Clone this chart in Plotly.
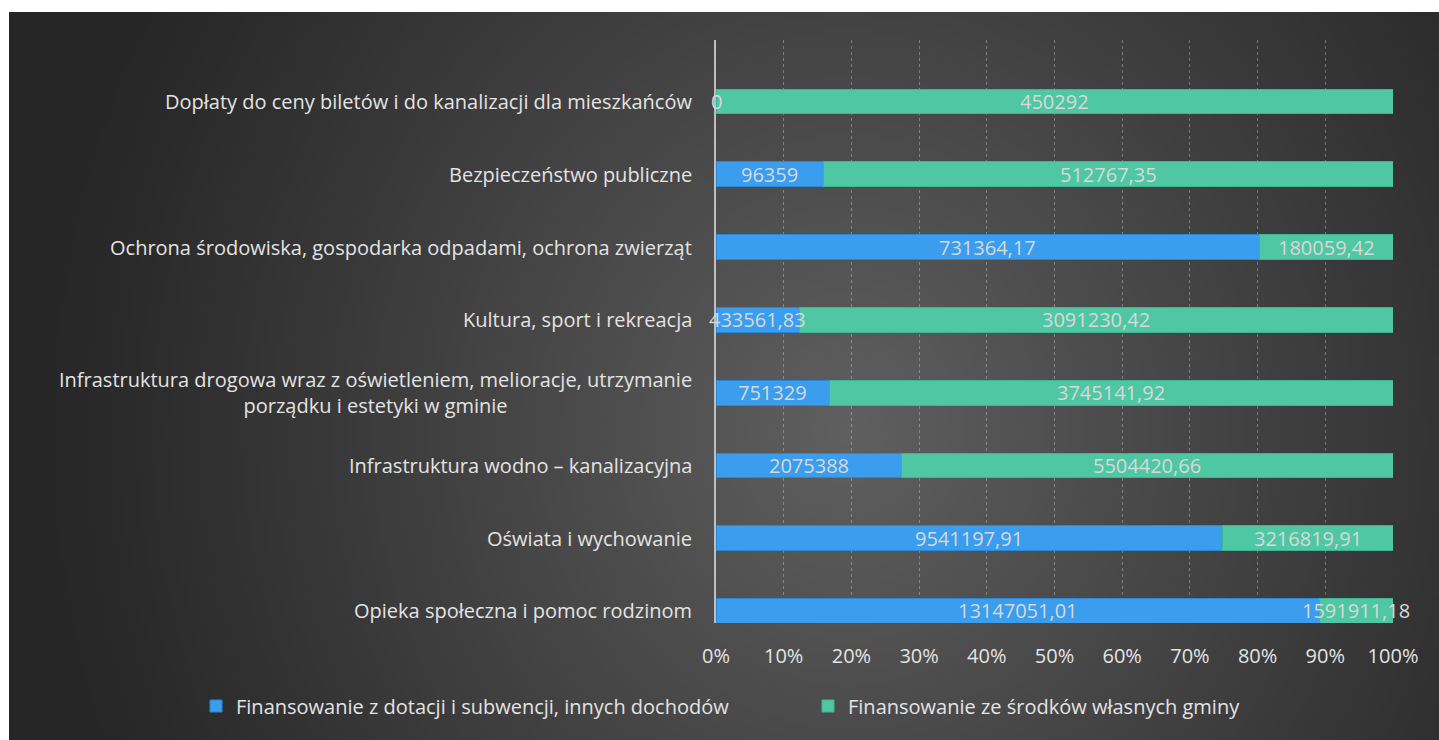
import base64
import struct
import zlib

import numpy as np
import plotly.graph_objects as go

# ---------------- data ----------------
categories = [
    "Opieka społeczna i pomoc rodzinom",
    "Oświata i wychowanie",
    "Infrastruktura wodno – kanalizacyjna",
    "Infrastruktura drogowa wraz z oświetleniem, melioracje, utrzymanie<br>porządku i estetyki w gminie",
    "Kultura, sport i rekreacja",
    "Ochrona środowiska, gospodarka odpadami, ochrona zwierząt",
    "Bezpieczeństwo publiczne",
    "Dopłaty do ceny biletów i do kanalizacji dla mieszkańców",
]
dotacje = [13147051.01, 9541197.91, 2075388, 751329, 433561.83, 731364.17, 96359, 0]
wlasne = [1591911.18, 3216819.91, 5504420.66, 3745141.92, 3091230.42, 180059.42, 512767.35, 450292]
series_names = [
    "Finansowanie z dotacji i subwencji, innych dochodów",
    "Finansowanie ze środków własnych gminy",
]
tick_values = [0, 10, 20, 30, 40, 50, 60, 70, 80, 90, 100]
tick_labels = ["0%", "10%", "20%", "30%", "40%", "50%", "60%", "70%", "80%", "90%", "100%"]


def fmt(v):
    if float(v).is_integer():
        return str(int(v))
    return f"{v:.2f}".replace(".", ",")


# ---------------- background gradient image ----------------
def make_png(arr):
    h, w, _ = arr.shape
    raw = b"".join(b"\x00" + arr[i].tobytes() for i in range(h))

    def chunk(tag, data):
        c = struct.pack(">I", len(data)) + tag + data
        return c + struct.pack(">I", zlib.crc32(tag + data) & 0xFFFFFFFF)

    png = b"\x89PNG\r\n\x1a\n"
    png += chunk(b"IHDR", struct.pack(">IIBBBBB", w, h, 8, 2, 0, 0, 0))
    png += chunk(b"IDAT", zlib.compress(raw, 9))
    png += chunk(b"IEND", b"")
    return "data:image/png;base64," + base64.b64encode(png).decode()


W, H = 1430, 728
gw, gh = 286, 146
xs = np.linspace(0, W, gw)[None, :]
ys = np.linspace(0, H, gh)[:, None]
d = np.sqrt(((xs - 840) / 820) ** 2 + ((ys - 420) / 900) ** 2)
f = np.clip(1 - d, 0, 1) ** 1.1
val = (38 + 58 * f).astype(np.uint8)
img = np.stack([val, val, val], axis=-1)
bg_src = make_png(img)

# ---------------- figure ----------------
FIG_W, FIG_H = 1439, 740
L, R, T, B = 716, 46, 40, 117
pw = FIG_W - L - R
ph = FIG_H - T - B
FONT = "Open Sans, Noto Sans, sans-serif"
TXT = "#e3e3e3"
FS = 20

fig = go.Figure()

colors = ["#3a9ded", "#4fc7a3"]
line_colors = ["#2a86d6", "#3cb592"]
for name, vals, c, lc in zip(series_names, [dotacje, wlasne], colors, line_colors):
    fig.add_trace(
        go.Bar(
            y=categories,
            x=vals,
            name=name,
            orientation="h",
            width=0.34,
            marker=dict(color=c, line=dict(color=lc, width=1)),
            hovertemplate="%{y}: %{x}<extra></extra>",
        )
    )

annotations = []
# category labels (centered multi-line, right-anchored like the original)
for cat in categories:
    annotations.append(
        dict(
            x=(694 - L) / pw,
            xref="paper",
            y=cat,
            yref="y",
            text=cat,
            showarrow=False,
            xanchor="right",
            yanchor="middle",
            align="center",
            font=dict(size=FS, color=TXT, family=FONT),
        )
    )

# value labels centered in each segment (percent positions from the data)
for cat, a, b in zip(categories, dotacje, wlasne):
    tot = a + b
    pa = 100 * a / tot
    pb = 100 * b / tot
    for v, center in ((a, pa / 2), (b, pa + pb / 2)):
        annotations.append(
            dict(
                x=center,
                xref="x",
                y=cat,
                yref="y",
                text=fmt(v),
                showarrow=False,
                xanchor="center",
                yanchor="middle",
                font=dict(size=FS, color="#d8d8d8", family=FONT),
            )
        )

fig.update_layout(
    width=FIG_W,
    height=FIG_H,
    barmode="stack",
    barnorm="percent",
    paper_bgcolor="white",
    plot_bgcolor="rgba(0,0,0,0)",
    margin=dict(l=L, r=R, t=T, b=B, pad=0),
    font=dict(family=FONT, color=TXT, size=FS),
    showlegend=True,
    legend=dict(
        orientation="h",
        xref="paper",
        yref="paper",
        x=(196 - L) / pw,
        xanchor="left",
        y=-(706 - (T + ph)) / ph,
        yanchor="middle",
        font=dict(size=FS, color=TXT, family=FONT),
        bgcolor="rgba(0,0,0,0)",
        traceorder="normal",
        itemwidth=30,
        entrywidth=567,
        entrywidthmode="pixels",
    ),
    xaxis=dict(
        range=[0, 100],
        tickmode="array",
        tickvals=tick_values,
        ticktext=tick_labels,
        showgrid=True,
        gridcolor="rgba(255,255,255,0.3)",
        griddash="dot",
        gridwidth=1,
        zeroline=False,
        showline=False,
        ticks="outside",
        ticklen=15,
        tickcolor="rgba(0,0,0,0)",
        tickfont=dict(size=FS, color=TXT, family=FONT),
        fixedrange=True,
    ),
    yaxis=dict(
        type="category",
        categoryorder="array",
        categoryarray=categories,
        range=[-0.165, 7.846],
        showticklabels=False,
        showgrid=False,
        showline=True,
        linecolor="rgba(210,210,210,0.85)",
        linewidth=2,
        zeroline=False,
        fixedrange=True,
    ),
    annotations=annotations,
    images=[
        dict(
            source=bg_src,
            xref="paper",
            yref="paper",
            x=(9 - L) / pw,
            y=1 + (T - 12) / ph,
            sizex=(FIG_W - 9) / pw,
            sizey=(FIG_H - 12) / ph,
            xanchor="left",
            yanchor="top",
            sizing="stretch",
            layer="below",
        )
    ],
)

fig.write_html(
    "out.html",
    config={"displayModeBar": False},
    post_script="document.body.style.margin='0';",
)
